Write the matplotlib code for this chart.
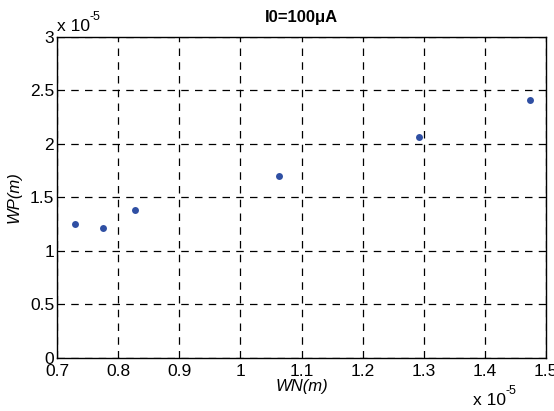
import matplotlib.pyplot as plt
from matplotlib.ticker import FuncFormatter

plt.rcParams['font.family'] = ['Liberation Sans', 'DejaVu Sans']

# channel widths, metres
wn = [0.729e-5, 0.776e-5, 0.828e-5, 1.063e-5, 1.293e-5, 1.473e-5]
wp = [1.255e-5, 1.218e-5, 1.386e-5, 1.700e-5, 2.065e-5, 2.410e-5]

x_ticks = [0.7, 0.8, 0.9, 1.0, 1.1, 1.2, 1.3, 1.4, 1.5]
y_ticks = [0, 0.5, 1.0, 1.5, 2.0, 2.5, 3.0]
scale = 1e-5

fig = plt.figure(figsize=(5.54, 4.11), dpi=100)
ax = fig.add_axes([0.1029, 0.129, 0.8827, 0.781])

ax.plot(wn, wp, 'o', color='#2f4fa3', markersize=5, markeredgewidth=0)

ax.set_xlim(x_ticks[0] * scale, x_ticks[-1] * scale)
ax.set_ylim(y_ticks[0] * scale, y_ticks[-1] * scale)
ax.set_xticks([t * scale for t in x_ticks])
ax.set_yticks([t * scale for t in y_ticks])
fmt = FuncFormatter(lambda v, p: f"{v / scale:g}")
ax.xaxis.set_major_formatter(fmt)
ax.yaxis.set_major_formatter(fmt)

ax.grid(True, color='black', linestyle=(0, (6, 5)), linewidth=0.9)
ax.tick_params(direction='in', length=0, labelsize=12.5, pad=2, top=True, right=True)
ax.tick_params(axis='x', pad=4)
for s in ax.spines.values():
    s.set_linewidth(1.0)

ax.set_xlabel('WN(m)', fontsize=12, style='italic', labelpad=0)
ax.set_ylabel('WP(m)', fontsize=12, style='italic', labelpad=6)
ax.set_title('I0=100μA', fontsize=12, fontweight='bold', pad=11)

# MATLAB style exponent labels
fig.text(57 / 554, 1 - 31 / 411, 'x 10', fontsize=12.5, ha='left', va='baseline')
fig.text(90 / 554, 1 - 20 / 411, '-5', fontsize=9, ha='left', va='baseline')
fig.text(473 / 554, 1 - 405 / 411, 'x 10', fontsize=12.5, ha='left', va='baseline')
fig.text(506 / 554, 1 - 394 / 411, '-5', fontsize=9, ha='left', va='baseline')

fig.savefig('out.png', dpi=100)
